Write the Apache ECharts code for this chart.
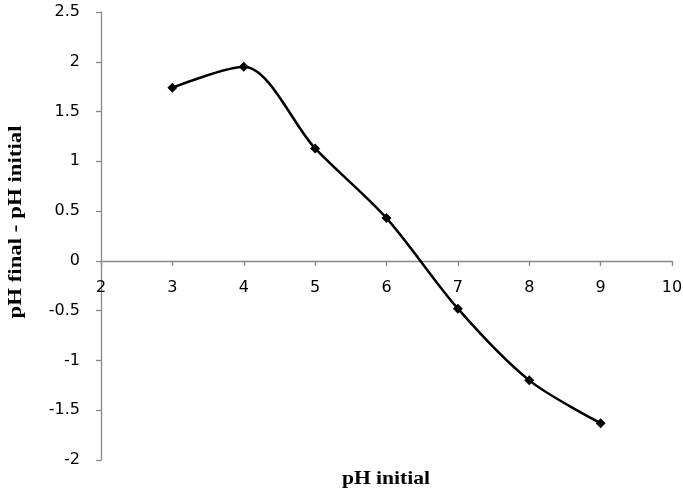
<!DOCTYPE html>
<html>
<head>
<meta charset="utf-8">
<script src="https://cdn.jsdelivr.net/npm/echarts@6/dist/echarts.min.js"></script>
<style>html,body{margin:0;padding:0;background:#fff;}#c{width:683px;height:491px;}</style>
</head>
<body>
<div id="c"></div>
<script>
var xValues = [3, 4, 5, 6, 7, 8, 9];
var yValues = [1.74, 1.95, 1.13, 0.43, -0.48, -1.20, -1.63];
var xTitle = 'pH initial';
var yTitle = 'pH final - pH initial';

var chart = echarts.init(document.getElementById('c'));
var axisGray = '#898989';
chart.setOption({
  animation: false,
  grid: {left: 101, right: 11, top: 12, bottom: 31, outerBoundsMode: 'none', containLabel: false},
  xAxis: {
    type: 'value', min: 2, max: 10, interval: 1,
    offset: -199,
    axisLine: {onZero: false, lineStyle: {color: axisGray, width: 1.3}},
    axisTick: {show: true, length: 5, lineStyle: {color: axisGray, width: 1.3}},
    axisLabel: {color: '#000', fontFamily: 'DejaVu Sans', fontSize: 16, margin: 19},
    splitLine: {show: false}
  },
  yAxis: {
    type: 'value', min: -2, max: 2.5, interval: 0.5,
    axisLine: {show: true, onZero: false, lineStyle: {color: axisGray, width: 1.3}},
    axisTick: {show: true, length: 5, lineStyle: {color: axisGray, width: 1.3}},
    axisLabel: {color: '#000', fontFamily: 'DejaVu Sans', fontSize: 16, margin: 21},
    splitLine: {show: false}
  },
  graphic: [
    {type: 'text', x: 386, y: 479, scaleX: 1.2,
     style: {text: xTitle, font: 'bold 18px "Liberation Serif"', fill: '#000', align: 'center', verticalAlign: 'middle'}},
    {type: 'text', rotation: Math.PI / 2, x: 16, y: 222, scaleX: 1.27,
     style: {text: yTitle, font: 'bold 18px "Liberation Serif"', fill: '#000', align: 'center', verticalAlign: 'middle'}}
  ],
  series: [{
    type: 'line',
    data: xValues.map(function (x, i) { return [x, yValues[i]]; }),
    smooth: 0.3,
    symbol: 'diamond', symbolSize: 10,
    itemStyle: {color: '#000'},
    lineStyle: {color: '#000', width: 2.5}
  }]
});
</script>
</body>
</html>
